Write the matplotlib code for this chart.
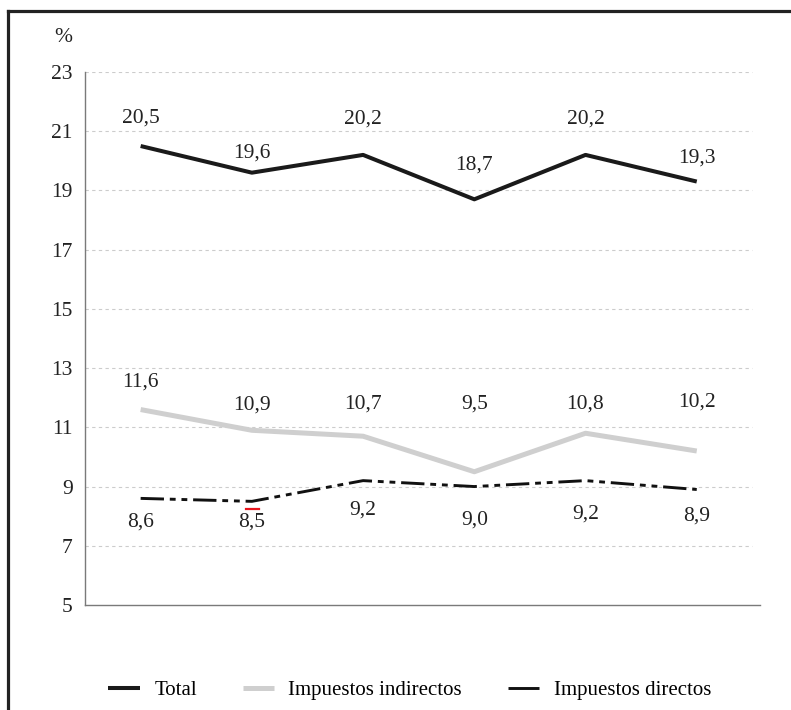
import numpy as np
import matplotlib.pyplot as plt
from matplotlib.lines import Line2D

plt.rcParams['font.family'] = ['Liberation Serif', 'DejaVu Serif']

# series, one value per year (x labels are not shown)
total = [20.5, 19.6, 20.2, 18.7, 20.2, 19.3]
indirectos = [11.6, 10.9, 10.7, 9.5, 10.8, 10.2]
directos = [8.6, 8.5, 9.2, 9.0, 9.2, 8.9]
yticks = [5, 7, 9, 11, 13, 15, 17, 19, 21, 23]

# label offsets (points) from each point
off_total = [20, 14, 26, 25, 26, 17]
off_ind = [20, 18, 23, 49, 21, 35]
off_dir = [-17, -15, -21, -24, -24, -19]

x = np.arange(len(total))

fig = plt.figure(figsize=(7.91, 7.10), dpi=100)
ax = fig.add_axes([0.1075, 0.1479, 0.8535, 0.7507])

ax.plot(x, total, color='#1a1a1a', lw=2.9, solid_capstyle='butt')
ax.plot(x, indirectos, color='#cfcfcf', lw=3.6, solid_capstyle='butt')
ax.plot(x, directos, color='#111111', lw=2.1, dash_capstyle='butt',
        linestyle=(0, (8, 2, 2, 2, 2, 2)))

fmt = lambda v: f'{v:.1f}'.replace('.', ',')
for vals, offs in [(total, off_total), (indirectos, off_ind), (directos, off_dir)]:
    for xi, v, o in zip(x, vals, offs):
        ax.annotate(fmt(v), (xi, v), xytext=(0, o), textcoords='offset points',
                    ha='center', va='center', fontsize=15.5, color='#222222')

# small red underline mark near the second point
ax.plot([x[1] - 0.05, x[1] + 0.06], [directos[1] - 0.26] * 2, color='#e8141c', lw=1.6)

ax.set_xlim(-0.5, 5.57)
ax.set_ylim(5, 23)
ax.set_yticks(yticks)
ax.set_xticks([])
ax.tick_params(axis='y', length=0, pad=9, labelsize=15.5, labelcolor='#222222')
for gy in yticks[1:]:
    ax.plot([-0.5, 5.5], [gy, gy], color='#cccccc', lw=0.8,
            linestyle=(0, (3, 3)), zorder=0)

for s in ['top', 'right']:
    ax.spines[s].set_visible(False)
for s in ['left', 'bottom']:
    ax.spines[s].set_color('#7a7a7a')
    ax.spines[s].set_linewidth(1.0)

fig.text(63 / 791, 1 - 38 / 710, '%', fontsize=15.5, ha='center', va='center', color='#222222')

handles = [Line2D([], [], color='#1a1a1a', lw=2.9, solid_capstyle='butt'),
           Line2D([], [], color='#cfcfcf', lw=3.6, solid_capstyle='butt'),
           Line2D([], [], color='#111111', lw=2.1, solid_capstyle='butt')]
names = ['Total', 'Impuestos indirectos', 'Impuestos directos']
fig.legend(handles, names, loc='center', bbox_to_anchor=(0.518, 1 - 690 / 710), ncol=3,
           frameon=False, fontsize=15, handlelength=1.5, handletextpad=0.7, columnspacing=2.2)

# outer frame
fig.add_artist(Line2D([8 / 791, 8 / 791], [0, 1 - 11 / 710], color='#222222', lw=2.3))
fig.add_artist(Line2D([8 / 791, 1], [1 - 11 / 710, 1 - 11 / 710], color='#222222', lw=2.3))

fig.savefig('out.png', dpi=100)
